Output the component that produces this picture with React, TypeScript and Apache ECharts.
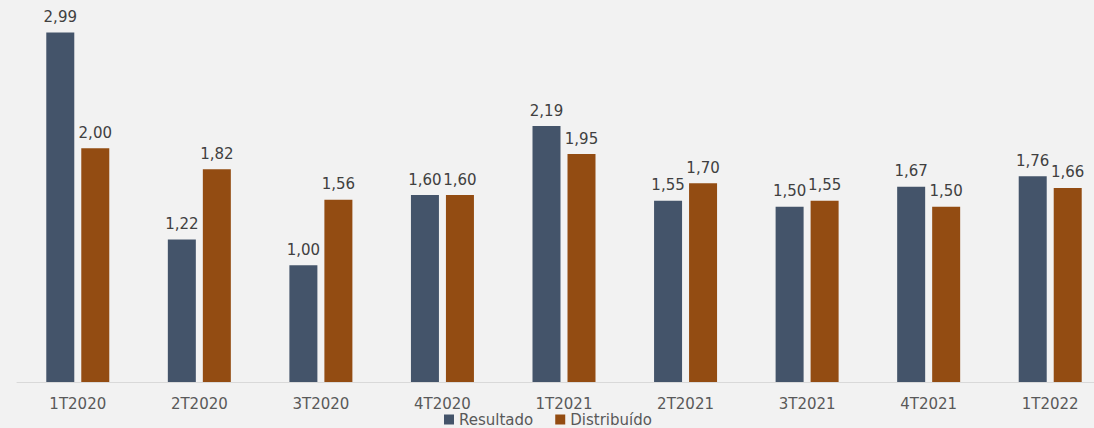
import React, { useEffect, useRef } from "react";
import * as echarts from "echarts";

const categories = ["1T2020", "2T2020", "3T2020", "4T2020", "1T2021", "2T2021", "3T2021", "4T2021", "1T2022"];
const resultado = [2.99, 1.22, 1.0, 1.6, 2.19, 1.55, 1.5, 1.67, 1.76];
const distribuido = [2.0, 1.82, 1.56, 1.6, 1.95, 1.7, 1.55, 1.5, 1.66];

const fmt = (v: number) => v.toFixed(2).replace(".", ",");
const FONT = "DejaVu Sans";

export default function App() {
  const ref = useRef<HTMLDivElement>(null);

  useEffect(() => {
    if (!ref.current) return;
    const chart = echarts.init(ref.current, null, { renderer: "svg" });
    const labelStyle = {
      show: true,
      position: "top" as const,
      distance: 8,
      color: "#404040",
      fontSize: 15,
      fontFamily: FONT,
      formatter: (p: any) => fmt(p.value),
    };
    chart.setOption({
      animation: false,
      backgroundColor: "#f2f2f2",
      textStyle: { fontFamily: FONT },
      grid: { left: 17, right: 0, top: 8, bottom: 46, containLabel: false },
      legend: {
        top: 412,
        left: 444,
        itemWidth: 10,
        itemHeight: 10,
        itemGap: 22,
        icon: "rect",
        padding: 0,
        textStyle: { color: "#595959", fontSize: 15, lineHeight: 15, fontFamily: FONT },
        data: ["Resultado", "Distribuído"],
      },
      xAxis: {
        type: "category",
        data: categories,
        axisLine: { lineStyle: { color: "#d9d9d9", width: 1 } },
        axisTick: { show: false },
        axisLabel: {
          color: "#595959",
          fontSize: 15,
          lineHeight: 15,
          margin: 14,
          fontFamily: FONT,
        },
      },
      yAxis: {
        type: "value",
        min: 0,
        max: 3.2,
        show: false,
        splitLine: { show: false },
      },
      series: [
        {
          name: "Resultado",
          type: "bar",
          data: resultado,
          barWidth: 28,
          barGap: "25%",
          itemStyle: { color: "#44546a" },
          label: labelStyle,
        },
        {
          name: "Distribuído",
          type: "bar",
          data: distribuido,
          barWidth: 28,
          itemStyle: { color: "#934c12" },
          label: labelStyle,
        },
      ],
    });
    return () => chart.dispose();
  }, []);

  return (
    <div
      style={{
        position: "fixed",
        left: 0,
        top: 0,
        width: 1094,
        height: 428,
        overflow: "hidden",
        background: "#f2f2f2",
      }}
    >
      <div ref={ref} style={{ width: 1111, height: 428 }} />
    </div>
  );
}
